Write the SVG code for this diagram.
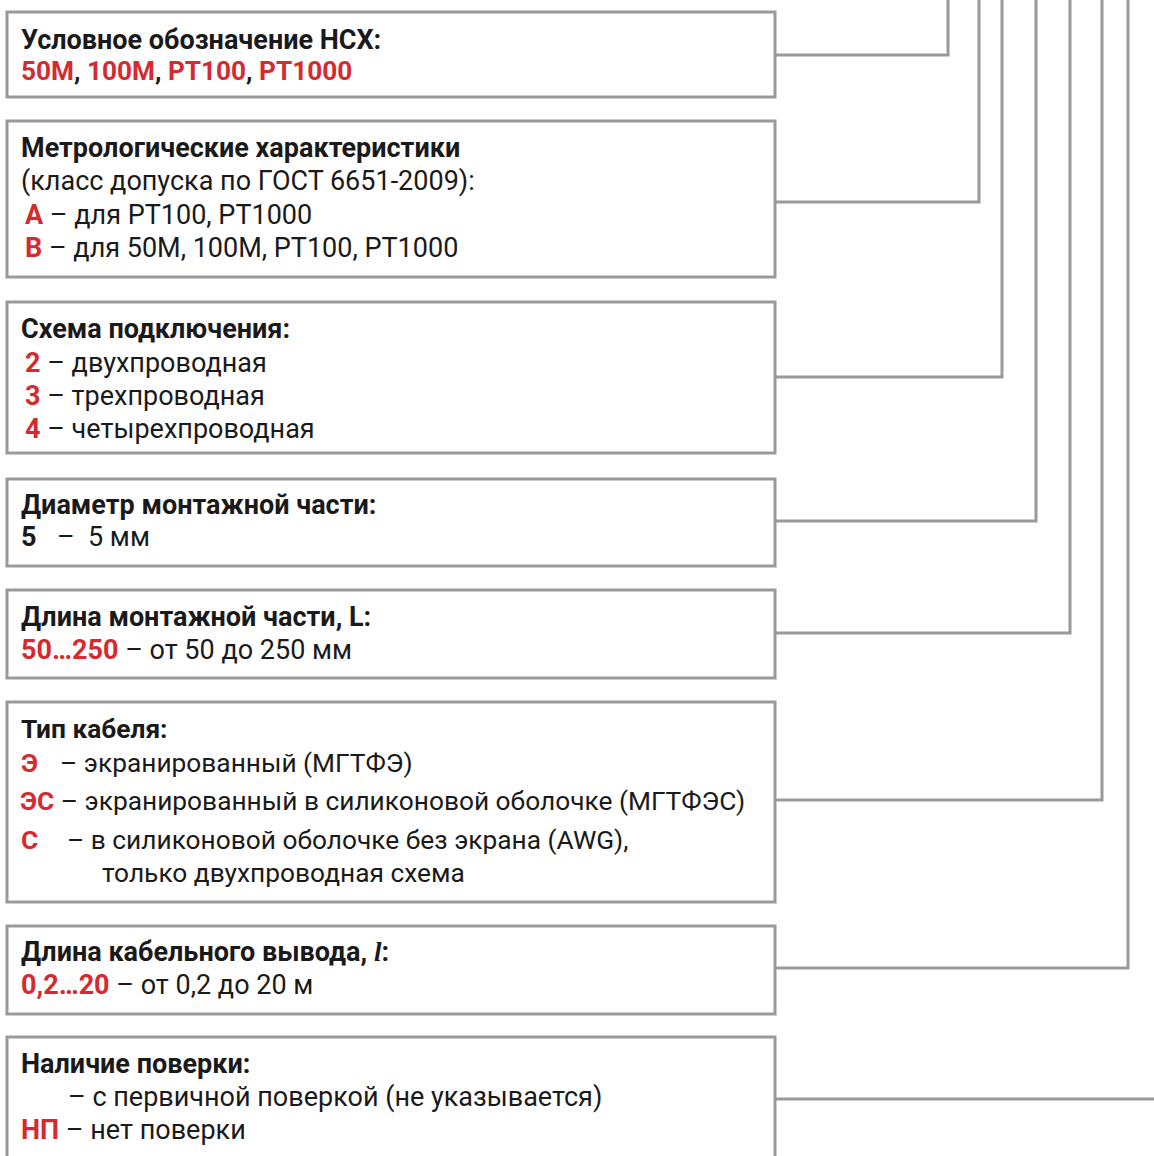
<svg xmlns="http://www.w3.org/2000/svg" width="1154" height="1156" viewBox="0 0 1154 1156">
<style>
.box{fill:#fff;stroke:#9a9a9a;stroke-width:3}
.con{fill:none;stroke:#9a9a9a;stroke-width:3}
text{font-family:Roboto,"Noto Sans",sans-serif;font-size:27px;fill:#1a1a1a}
.s{font-size:26.3px}
.m{font-size:26.2px}
.b{font-weight:bold}
.r{fill:#d42a30;font-weight:bold}
</style>
<rect width="1154" height="1156" fill="#fff"/>
<g id="connectors">
<polyline class="con" points="775,55 948,55 948,0"/>
<polyline class="con" points="775,202 979,202 979,0"/>
<polyline class="con" points="775,377 1002,377 1002,0"/>
<polyline class="con" points="775,521 1036,521 1036,0"/>
<polyline class="con" points="775,633 1070,633 1070,0"/>
<polyline class="con" points="775,800 1102,800 1102,0"/>
<polyline class="con" points="775,968 1128,968 1128,0"/>
<polyline class="con" points="775,1099 1156,1099"/>
</g>
<g id="n1">
<rect class="box" x="7" y="12" width="768" height="85"/>
<text x="21" y="49" class="b">Условное обозначение НСХ:</text>
<text x="21" y="80" class="b m"><tspan class="r">50M</tspan>, <tspan class="r">100M</tspan>, <tspan class="r">PT100</tspan>, <tspan class="r">PT1000</tspan></text>
</g>
<g id="n2">
<rect class="box" x="7" y="121" width="768" height="156"/>
<text x="21" y="157" class="b">Метрологические характеристики</text>
<text x="21" y="190">(класс допуска по ГОСТ 6651-2009):</text>
<text x="25" y="224"><tspan class="r">A</tspan> – для PT100, PT1000</text>
<text x="25" y="257"><tspan class="r">B</tspan> – для 50M, 100M, PT100, PT1000</text>
</g>
<g id="n3">
<rect class="box" x="7" y="302" width="768" height="151"/>
<text x="21" y="338" class="b">Схема подключения:</text>
<text x="25" y="372"><tspan class="r">2</tspan> – двухпроводная</text>
<text x="25" y="405"><tspan class="r">3</tspan> – трехпроводная</text>
<text x="25" y="438"><tspan class="r">4</tspan> – четырехпроводная</text>
</g>
<g id="n4">
<rect class="box" x="7" y="479" width="768" height="87"/>
<text x="21" y="514" class="b">Диаметр монтажной части:</text>
<text x="21" y="546"><tspan class="b">5</tspan><tspan x="57">–</tspan><tspan x="88">5 мм</tspan></text>
</g>
<g id="n5">
<rect class="box" x="7" y="590" width="768" height="88"/>
<text x="21" y="626" class="b">Длина монтажной части, L:</text>
<text x="21" y="659"><tspan class="r">50…250</tspan> – от 50 до 250 мм</text>
</g>
<g id="n6">
<rect class="box" x="7" y="702" width="768" height="200"/>
<text x="21" y="738" class="b s">Тип кабеля:</text>
<text x="21" y="772" class="s"><tspan class="r">Э</tspan><tspan x="60">– экранированный (МГТФЭ)</tspan></text>
<text x="20" y="810" class="s"><tspan class="r">ЭС</tspan> – экранированный в силиконовой оболочке (МГТФЭС)</text>
<text x="21" y="849" class="s"><tspan class="r">С</tspan><tspan x="67">– в силиконовой оболочке без экрана (AWG),</tspan></text>
<text x="102" y="882" class="s">только двухпроводная схема</text>
</g>
<g id="n7">
<rect class="box" x="7" y="926" width="768" height="88"/>
<text x="21" y="961" class="b">Длина кабельного вывода, <tspan font-family="'Liberation Serif',serif" font-style="italic">l</tspan>:</text>
<text x="21" y="994"><tspan class="r">0,2…20</tspan> – от 0,2 до 20 м</text>
</g>
<g id="n8">
<rect class="box" x="7" y="1037" width="768" height="140"/>
<text x="21" y="1073" class="b">Наличие поверки:</text>
<text x="68" y="1106">– с первичной поверкой (не указывается)</text>
<text x="21" y="1139"><tspan class="r">НП</tspan> – нет поверки</text>
</g>
</svg>
